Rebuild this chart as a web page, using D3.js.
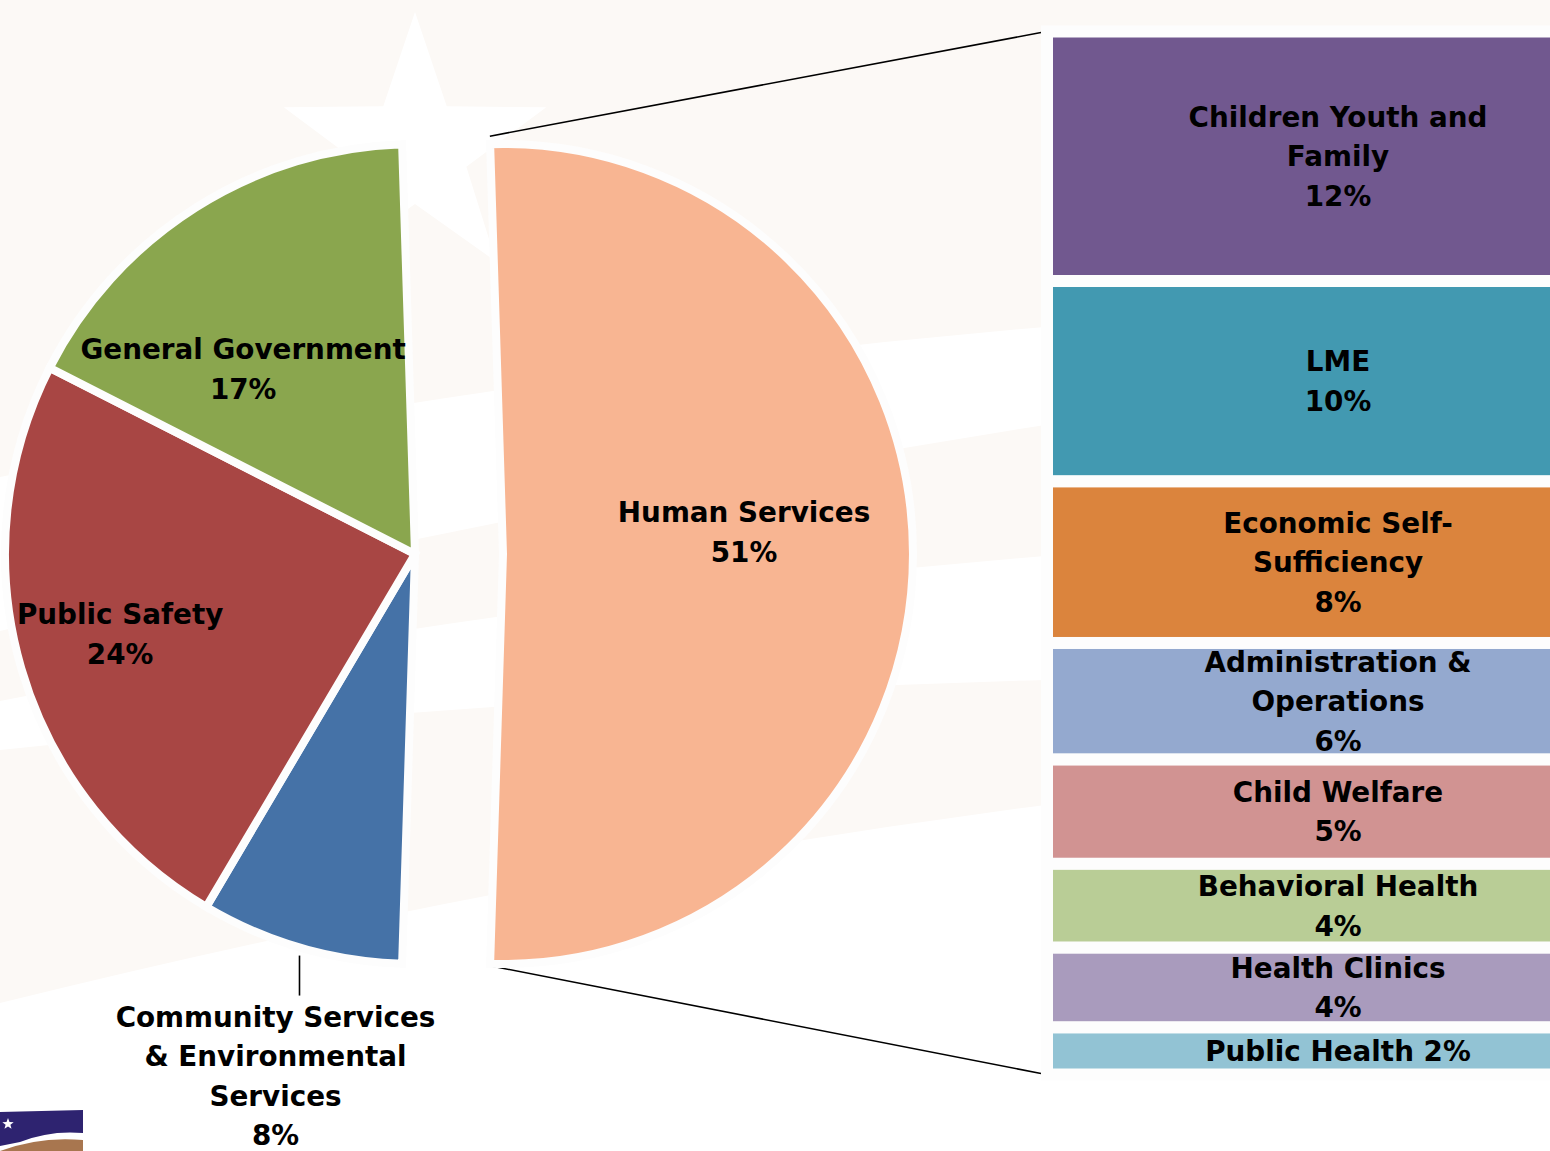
<!DOCTYPE html>
<html>
<head>
<meta charset="utf-8">
<script src="https://cdn.jsdelivr.net/npm/d3@7"></script>
<style>
  html, body { margin: 0; padding: 0; background: #ffffff; }
  svg { display: block; }
  text { font-family: "DejaVu Sans", sans-serif; font-weight: bold; fill: #000; }
</style>
</head>
<body>
<div id="chart"></div>
<script>
// budget shares (percent of total)
var pieNames  = ['Human Services', 'Community Services\n& Environmental\nServices', 'Public Safety', 'General Government'];
var pieValues = [51, 8, 24, 17];
var pieColors = ['#f8b592', '#4572a7', '#a84644', '#8aa64e'];

// breakdown of Human Services
var subNames  = ['Children Youth and\nFamily', 'LME', 'Economic Self-\nSufficiency', 'Administration &\nOperations',
                 'Child Welfare', 'Behavioral Health', 'Health Clinics', 'Public Health'];
var subValues = [12.2, 9.8, 7.9, 5.7, 5.1, 4.1, 3.9, 2.3];
var subColors = ['#71588f', '#4299b1', '#db843d', '#94a9cf', '#d19392', '#b9cd96', '#a99bbd', '#92c3d4'];

var W = 1550, H = 1151;
var cx = 415, cy = 554, R = 410, explode = 88;
var barX = 1047, barW = 600;
var lh = 39.5, fs = 27.8;

var svg = d3.select('#chart').append('svg')
    .attr('width', W)
    .attr('height', H);

// ---- background: cream with white swooshes and star
svg.append('rect').attr('width', W).attr('height', H).attr('fill', '#fcf9f6');

var bg = svg.append('g').attr('fill', '#ffffff');
var band = function(l0, l1, r0, r1){
    return 'M0,' + l0 + ' Q520,' + ((l0 + r0)/2 - 30) + ' 1045,' + r0 +
           ' L1045,' + r1 + ' Q520,' + ((l1 + r1)/2 - 20) + ' 0,' + l1 + 'Z';
};
bg.append('path').attr('d', band(477, 631, 327, 425));
bg.append('path').attr('d', band(701, 750, 556, 680));
bg.append('path').attr('d', band(1003, 1160, 805, 1160));
bg.append('rect').attr('x', 0).attr('y', 1080).attr('width', W).attr('height', 80);

var starPts = d3.range(10).map(function(i){
    var a = i * Math.PI / 5, r = i % 2 ? 54 : 138;
    return [415 + r * Math.sin(a), 150 - r * Math.cos(a)];
});
bg.append('path').attr('d', d3.line()(starPts) + 'Z');

// ---- pie
var total = d3.sum(pieValues);
var start = Math.PI/2 - pieValues[0]/total*Math.PI;
var pie = d3.pie().sort(null)
    .startAngle(start)
    .endAngle(start + 2*Math.PI);
var arcs = pie(pieValues);
var arc = d3.arc().innerRadius(0).outerRadius(R);

// ---- bar of the exploded slice
var subTotal = d3.sum(subValues);
var y = d3.scaleLinear().domain([0, subTotal]).range([31.5, 1074.5]);
var stack = [];
subValues.reduce(function(acc, v, i){
    stack.push({name: subNames[i], value: v, y0: acc, y1: acc + v, color: subColors[i]});
    return acc + v;
}, 0);

// connector lines (drawn under the slice)
var hs = arcs[0];
var hx = cx + explode;
var lines = svg.append('g').attr('stroke', '#000').attr('stroke-width', 1.6);
lines.append('line')
    .attr('x1', hx + (R + 8) * Math.sin(hs.startAngle)).attr('y1', cy - (R + 8) * Math.cos(hs.startAngle))
    .attr('x2', barX - 6).attr('y2', y(0) + 1);
lines.append('line')
    .attr('x1', hx + (R + 2) * Math.sin(hs.endAngle)).attr('y1', cy - (R + 2) * Math.cos(hs.endAngle))
    .attr('x2', barX - 6).attr('y2', y(subTotal) - 1);

var pg = svg.append('g');
pg.selectAll('path.slice')
    .data(arcs)
    .enter().append('path')
        .attr('class', 'slice')
        .attr('transform', function(d, i){ return 'translate(' + (i === 0 ? hx : cx) + ',' + cy + ')'; })
        .attr('d', arc)
        .attr('fill', function(d, i){ return pieColors[i]; })
        .attr('stroke', '#fdfdfd')
        .attr('stroke-width', 8)
        .attr('stroke-linejoin', 'miter');

var bar = svg.append('g');
bar.selectAll('rect')
    .data(stack)
    .enter().append('rect')
        .attr('x', barX)
        .attr('y', function(d){ return y(d.y0); })
        .attr('width', barW)
        .attr('height', function(d){ return y(d.y1) - y(d.y0); })
        .attr('fill', function(d){ return d.color; })
        .attr('stroke', '#fdfdfd')
        .attr('stroke-width', 12);

// ---- labels
function block(g, x, yc, linesTxt){
    var t = g.append('text')
        .attr('x', x)
        .attr('font-size', fs + 'px')
        .style('text-anchor', 'middle');
    linesTxt.forEach(function(s, i){
        t.append('tspan')
            .attr('x', x)
            .attr('y', yc - (linesTxt.length - 1) * lh / 2 + i * lh)
            .attr('dy', '0.36em')
            .text(s);
    });
}
var pct = function(v, t){ return Math.round(v / t * 100) + '%'; };

var labels = svg.append('g');
// slice labels: centroid plus a nudge
var nudge = [[36, -22], null, [-98, 23], [-62, -12]];
arcs.forEach(function(d, i){
    var txt = pieNames[i].split('\n').concat([pct(d.value, total)]);
    if (nudge[i]) {
        var c = arc.centroid(d);
        block(labels, (i === 0 ? hx : cx) + c[0] + nudge[i][0], cy + c[1] + nudge[i][1], txt);
    } else {
        // outside label with a short leader
        var mid = (d.startAngle + d.endAngle) / 2;
        var ox = cx + (R + 4) * Math.sin(mid), oy = cy - (R + 4) * Math.cos(mid);
        labels.append('line')
            .attr('x1', ox).attr('y1', oy + 4)
            .attr('x2', ox).attr('y2', oy + 44)
            .attr('stroke', '#000').attr('stroke-width', 1.6);
        block(labels, ox - 24, oy + 50 + 15 + (txt.length - 1) * lh / 2, txt);
    }
});

stack.forEach(function(d){
    var h = y(d.y1) - y(d.y0);
    var txt = h < 55 ? [d.name + ' ' + pct(d.value, total)]
                     : d.name.split('\n').concat([pct(d.value, total)]);
    block(labels, 1338, (y(d.y0) + y(d.y1)) / 2, txt);
});

// ---- corner logo
var logo = svg.append('g');
logo.append('path').attr('fill', '#2e2370')
    .attr('d', 'M0,1112 L83,1110 L83,1133 Q50,1130 20,1142 L0,1146 Z');
logo.append('path').attr('fill', '#a8764f')
    .attr('d', 'M0,1151 Q40,1136 83,1140 L83,1151 Z');
var sp = d3.range(10).map(function(i){
    var a = i * Math.PI / 5, r = i % 2 ? 2.5 : 6;
    return [8 + r * Math.sin(a), 1124 - r * Math.cos(a)];
});
logo.append('path').attr('fill', '#ffffff').attr('d', d3.line()(sp) + 'Z');
</script>
</body>
</html>
